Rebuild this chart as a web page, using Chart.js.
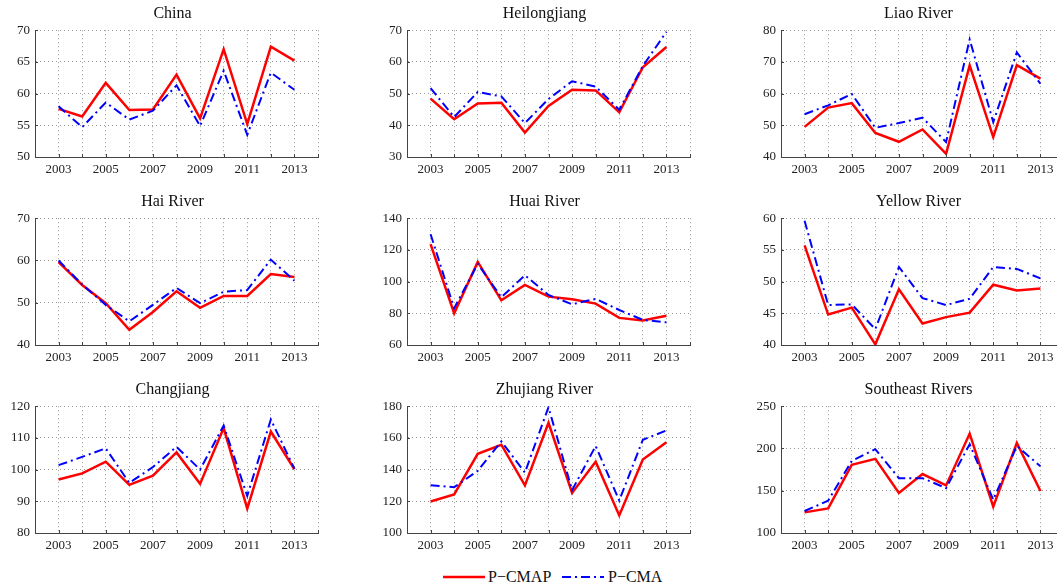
<!DOCTYPE html>
<html>
<head>
<meta charset="utf-8">
<title>P-CMAP vs P-CMA</title>
<script src="https://cdn.jsdelivr.net/npm/chart.js@4.4.0/dist/chart.umd.min.js"></script>
<style>
  html, body { margin: 0; padding: 0; background: #fff; width: 1057px; height: 587px; overflow: hidden; }
  #wrap { position: relative; width: 1057px; height: 587px; overflow: hidden; }
  canvas.panel { position: absolute; }
  #legend { position: absolute; top: 566px; left: 0; width: 1057px; height: 22px;
            font-family: "Liberation Serif", "DejaVu Serif", serif; font-size: 16px; color: #111; }
  #legend svg { position: absolute; top: 0; }
  #legend span { position: absolute; top: 2px; line-height: 18px; }
</style>
</head>
<body>
<div id="wrap">
  <div id="legend">
    <svg style="left:443px" width="44" height="22"><line x1="0" y1="11" x2="42" y2="11" stroke="#ff0000" stroke-width="2.5"/></svg>
    <span style="left:488px">P−CMAP</span>
    <svg style="left:562px" width="44" height="22"><line x1="0" y1="11" x2="42" y2="11" stroke="#0000ff" stroke-width="2" stroke-dasharray="9 4 2 4"/></svg>
    <span style="left:608px">P−CMA</span>
  </div>
</div>
<script>
// years on the x axis
const years = [2003, 2004, 2005, 2006, 2007, 2008, 2009, 2010, 2011, 2012, 2013];

// P-CMAP (red) and P-CMA (blue) per region
const chinaCmap  = [57.6, 56.4, 61.7, 57.4, 57.5, 63.0, 56.1, 67.0, 55.2, 67.4, 65.2];
const chinaCma   = [58.0, 54.7, 58.6, 55.9, 57.3, 61.3, 54.9, 63.6, 53.5, 63.3, 60.6];
const heilongCmap = [48.4, 41.9, 46.9, 47.1, 37.7, 46.1, 51.2, 51.0, 44.1, 58.3, 64.7];
const heilongCma  = [51.7, 42.6, 50.5, 49.1, 40.7, 48.3, 53.9, 52.2, 44.9, 58.7, 69.5];
const liaoCmap   = [49.5, 55.6, 57.0, 47.6, 44.8, 48.7, 41.0, 68.9, 46.3, 69.0, 64.7];
const liaoCma    = [53.5, 56.3, 59.9, 49.2, 50.7, 52.4, 44.7, 77.1, 51.0, 73.0, 63.1];
const haiCmap    = [59.6, 54.2, 49.9, 43.6, 47.8, 52.7, 48.8, 51.6, 51.6, 56.8, 56.1];
const haiCma     = [60.0, 54.3, 49.5, 45.6, 49.5, 53.5, 49.9, 52.6, 53.0, 60.2, 55.2];
const huaiCmap   = [123.6, 80.0, 112.4, 88.2, 97.9, 90.5, 88.8, 86.1, 77.1, 75.4, 78.5];
const huaiCma    = [129.9, 83.2, 111.2, 90.1, 104.0, 91.6, 85.7, 89.1, 82.1, 75.8, 74.3];
const yellowCmap = [55.7, 44.8, 45.9, 40.1, 48.8, 43.4, 44.4, 45.1, 49.5, 48.6, 48.9];
const yellowCma  = [59.6, 46.3, 46.4, 42.5, 52.3, 47.4, 46.3, 47.3, 52.3, 52.0, 50.5];
const changCmap  = [96.9, 98.8, 102.5, 95.2, 98.1, 105.4, 95.5, 113.1, 87.7, 112.0, 100.1];
const changCma   = [101.4, 104.0, 106.7, 95.8, 100.8, 107.2, 100.0, 113.9, 91.7, 115.8, 100.3];
const zhuCmap    = [119.9, 124.3, 150.0, 155.7, 130.0, 169.5, 125.3, 145.0, 111.1, 146.3, 157.2];
const zhuCma     = [130.2, 128.9, 139.2, 157.8, 138.1, 179.4, 127.0, 154.9, 120.5, 158.8, 164.7];
const seCmap     = [124.4, 129.1, 180.6, 187.7, 147.3, 169.7, 156.3, 217.6, 131.2, 206.6, 149.7];
const seCma      = [126.0, 138.2, 185.3, 199.1, 164.9, 164.9, 153.1, 205.0, 139.4, 203.0, 178.9];

// panel titles and y axis ranges
const titles = ['China', 'Heilongjiang', 'Liao River', 'Hai River', 'Huai River', 'Yellow River',
                'Changjiang', 'Zhujiang River', 'Southeast Rivers'];
const yMins  = [50, 30, 40, 40, 60, 40, 80, 100, 100];
const yMaxs  = [70, 70, 80, 70, 140, 60, 120, 180, 250];
const ySteps = [5, 10, 10, 10, 20, 5, 10, 20, 50];
const cmapSeries = [chinaCmap, heilongCmap, liaoCmap, haiCmap, huaiCmap, yellowCmap, changCmap, zhuCmap, seCmap];
const cmaSeries  = [chinaCma, heilongCma, liaoCma, haiCma, huaiCma, yellowCma, changCma, zhuCma, seCma];

// layout of the 3x3 grid (plot area corners)
const plotLefts = [35, 407, 781];
const plotTops = [30, 218, 406];
const plotW = 283, plotH = 127;
const yAxisW = 36, xAxisH = 25, titleH = 28, rightW = 28;

const FONT = '"Liberation Serif", "DejaVu Serif", serif';
const wrap = document.getElementById('wrap');

// short inward tick marks on the left and bottom axes
const innerTicks = {
    id: 'innerTicks',
    afterDatasetsDraw(chart) {
        const { ctx, chartArea: a, scales } = chart;
        ctx.save();
        ctx.strokeStyle = '#444';
        ctx.lineWidth = 1;
        ctx.beginPath();
        scales.x.ticks.forEach(t => {
            const px = Math.round(scales.x.getPixelForValue(t.value)) + 0.5;
            ctx.moveTo(px, a.bottom);
            ctx.lineTo(px, a.bottom - 3);
        });
        scales.y.ticks.forEach(t => {
            const py = Math.round(scales.y.getPixelForValue(t.value)) + 0.5;
            ctx.moveTo(a.left, py);
            ctx.lineTo(a.left + 3, py);
        });
        ctx.stroke();
        ctx.restore();
    }
};

titles.forEach((title, i) => {
    const col = i % 3, row = Math.floor(i / 3);
    const canvas = document.createElement('canvas');
    canvas.className = 'panel';
    canvas.width = yAxisW + plotW + rightW;
    canvas.height = titleH + plotH + xAxisH;
    canvas.style.left = (plotLefts[col] - yAxisW) + 'px';
    canvas.style.top = (plotTops[row] - titleH) + 'px';
    wrap.appendChild(canvas);

    new Chart(canvas, {
        type: 'line',
        data: {
            datasets: [
                {
                    label: 'P−CMAP',
                    data: years.map((y, k) => ({ x: y, y: cmapSeries[i][k] })),
                    borderColor: '#ff0000',
                    borderWidth: 2.5,
                    pointRadius: 0,
                    tension: 0,
                    order: 1
                },
                {
                    label: 'P−CMA',
                    data: years.map((y, k) => ({ x: y, y: cmaSeries[i][k] })),
                    borderColor: '#0000ff',
                    borderWidth: 2,
                    borderDash: [9, 4, 2, 4],
                    pointRadius: 0,
                    tension: 0,
                    order: 0
                }
            ]
        },
        plugins: [innerTicks],
        options: {
            responsive: false,
            animation: false,
            layout: { padding: 0 },
            plugins: {
                legend: { display: false },
                tooltip: { enabled: false },
                title: {
                    display: true,
                    text: title,
                    color: '#111',
                    font: { family: FONT, size: 16, weight: 'normal' },
                    padding: { top: 2, bottom: 7 }
                }
            },
            scales: {
                x: {
                    type: 'linear',
                    min: 2002,
                    max: 2014,
                    afterBuildTicks: (scale) => {
                        const t = [];
                        for (let v = 2003; v <= 2014; v++) t.push({ value: v });
                        scale.ticks = t;
                    },
                    afterFit: (scale) => { scale.height = xAxisH; },
                    ticks: {
                        autoSkip: false,
                        maxRotation: 0,
                        padding: 5,
                        color: '#222',
                        font: { family: FONT, size: 13 },
                        callback: (v) => (v % 2 === 1 && v <= 2013) ? String(v) : ''
                    },
                    grid: { color: '#9a9a9a', lineWidth: 1, drawTicks: false },
                    border: { display: true, color: '#444', width: 1, dash: [1, 3] }
                },
                y: {
                    min: yMins[i],
                    max: yMaxs[i],
                    afterFit: (scale) => { scale.width = yAxisW; },
                    ticks: {
                        stepSize: ySteps[i],
                        padding: 5,
                        color: '#222',
                        font: { family: FONT, size: 13 }
                    },
                    grid: { color: '#9a9a9a', lineWidth: 1, drawTicks: false },
                    border: { display: true, color: '#444', width: 1, dash: [1, 3] }
                },
                // empty right-hand strip so the title sits where it does in the figure
                yRight: {
                    position: 'right',
                    min: yMins[i],
                    max: yMaxs[i],
                    afterFit: (scale) => { scale.width = rightW; },
                    ticks: { display: false },
                    grid: { display: false, drawTicks: false },
                    border: { display: false }
                }
            }
        }
    });
});
</script>
</body>
</html>
